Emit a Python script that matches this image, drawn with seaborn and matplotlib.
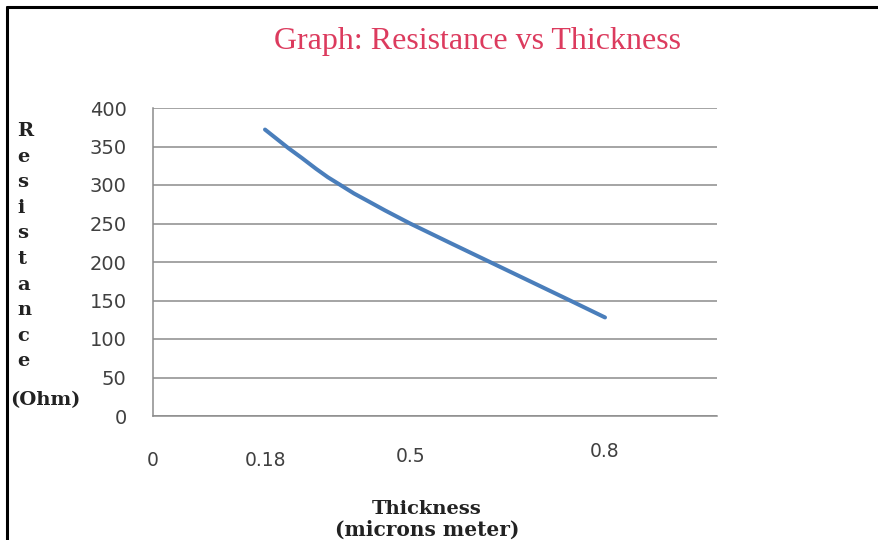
import numpy as np
import pandas as pd
import seaborn as sns
import matplotlib
matplotlib.use("Agg")
import matplotlib.pyplot as plt
from matplotlib.lines import Line2D
from matplotlib.transforms import ScaledTranslation

# values
thickness = [0.18, 0.231, 0.261, 0.292, 0.318, 0.348, 0.375, 0.403, 0.443,
             0.498, 0.56, 0.622, 0.684, 0.746, 0.8]
resistance = [372, 348, 335, 321, 310, 299, 289, 280, 267,
              250, 225, 200, 175, 150, 128]
x_ticks = [0, 0.18, 0.5, 0.8]
x_tick_labels = ["0", "0.18", "0.5", "0.8"]
y_ticks = [0, 50, 100, 150, 200, 250, 300, 350, 400]

df = pd.DataFrame({"Thickness": thickness, "Resistance": resistance})

# the original x axis is not evenly spaced, map it piecewise
anchor_t = [0, 0.18, 0.5, 0.8, 1.0]
anchor_px = [0, 112, 258, 452, 581]


def fwd(x):
    return np.interp(x, anchor_t, anchor_px)


def inv(p):
    return np.interp(p, anchor_px, anchor_t)


sns.set_style("white")
fig = plt.figure(figsize=(8.79, 5.40), dpi=100)
ax = fig.add_axes([153 / 879, 1 - 416 / 540, 564 / 879, 308 / 540])

sns.lineplot(data=df, x="Thickness", y="Resistance", sort=False,
             color="#4A7EBB", linewidth=2.9, ax=ax,
             solid_joinstyle="round", solid_capstyle="round")

ax.set_xscale("function", functions=(fwd, inv))
ax.set_xlim(0, inv(564))
ax.set_ylim(0, 400)
ax.set_yticks(y_ticks)
ax.yaxis.grid(True, color="#8c8c8c", linewidth=1.1)
ax.set_axisbelow(True)
for s in ["top", "right"]:
    ax.spines[s].set_visible(False)
for s in ["left", "bottom"]:
    ax.spines[s].set_color("#8c8c8c")
    ax.spines[s].set_linewidth(1.1)
ax.set_xlabel("")
ax.set_ylabel("")
ax.tick_params(axis="y", length=0, pad=19, labelsize=14, labelcolor="#404040")
ax.tick_params(axis="x", length=0, pad=25, labelsize=13.5, labelcolor="#404040")
ax.set_xticks(x_ticks)
ax.set_xticklabels(x_tick_labels)
for lab, dy in zip(ax.get_xticklabels(), [0, 0, 4, 9]):
    lab.set_transform(lab.get_transform() + ScaledTranslation(0, dy / 100, fig.dpi_scale_trans))

fig.text(478 / 879, 1 - 42 / 540, "Graph: Resistance vs Thickness",
         family="Liberation Serif", fontsize=23, color="#DC3B5E",
         ha="center", va="center")

# stacked y label
for i, ch in enumerate("Resistance"):
    fig.text(17 / 879, 1 - (131 + i * 25.6) / 540, ch, family="DejaVu Serif",
             weight="bold", fontsize=14, color="#222222", ha="left", va="center")
fig.text(10 / 879, 1 - 400 / 540, "(Ohm)", family="DejaVu Serif",
         weight="bold", fontsize=14, color="#222222", ha="left", va="center")

fig.text(427 / 879, 1 - 509 / 540, "Thickness", family="DejaVu Serif",
         weight="bold", fontsize=14, color="#222222", ha="center", va="center")
fig.text(427 / 879, 1 - 530 / 540, "(microns meter)", family="DejaVu Serif",
         weight="bold", fontsize=14.5, color="#222222", ha="center", va="center")

# black frame on the left and top
fig.add_artist(Line2D([7 / 879, 7 / 879], [0, 1 - 7 / 540], color="black", linewidth=2.2))
fig.add_artist(Line2D([7 / 879, 1], [1 - 7 / 540, 1 - 7 / 540], color="black", linewidth=2.2))

fig.savefig("out.png", dpi=100)
